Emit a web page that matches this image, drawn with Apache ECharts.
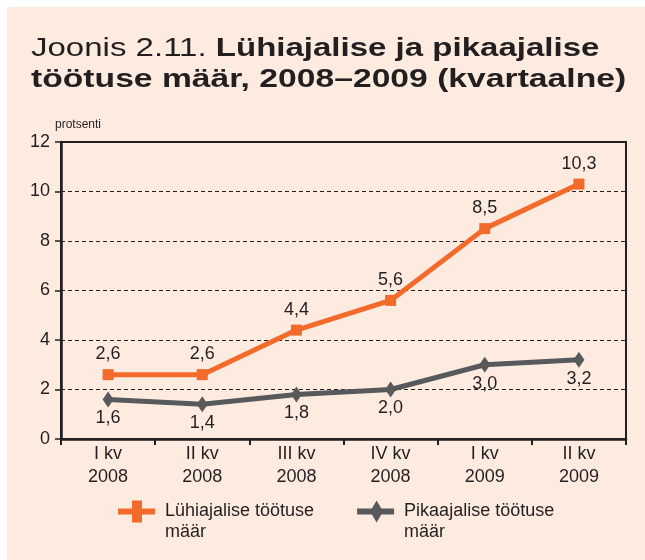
<!DOCTYPE html>
<html>
<head>
<meta charset="utf-8">
<script src="https://cdn.jsdelivr.net/npm/echarts@6/dist/echarts.min.js"></script>
<style>
html,body{margin:0;padding:0;background:#ffffff;}
#c{position:absolute;left:7px;top:7px;width:638px;height:553px;}
</style>
</head>
<body>
<div id="c"></div>
<script>
const categories = ["I kv\n2008", "II kv\n2008", "III kv\n2008", "IV kv\n2008", "I kv\n2009", "II kv\n2009"];
const shortTerm = [2.6, 2.6, 4.4, 5.6, 8.5, 10.3];
const longTerm = [1.6, 1.4, 1.8, 2.0, 3.0, 3.2];
const seriesNames = ["Lühiajalise töötuse\nmäär", "Pikaajalise töötuse\nmäär"];
const yTicks = [0, 2, 4, 6, 8, 10, 12];

const INK = '#231F20';
const ORANGE = '#F26B2A';
const GREY = '#58595B';
const FONT = '"Liberation Sans", Arial, sans-serif';
const fmt = p => p.value.toFixed(1).replace('.', ',');

const titleRich = {
  r: {fontSize: 26, fontWeight: 'normal', fill: INK, fontFamily: FONT, lineHeight: 31},
  b: {fontSize: 26, fontWeight: 'bold', fill: INK, fontFamily: FONT, lineHeight: 31}
};

const chart = echarts.init(document.getElementById('c'), null, {renderer: 'canvas'});
chart.setOption({
  backgroundColor: '#FDEBE0',
  textStyle: {fontFamily: FONT, color: INK},
  graphic: [
    {
      type: 'text', x: 24, y: 26, scaleX: 1.27, scaleY: 1, originX: 0, originY: 0,
      style: {
        text: '{r|Joonis 2.11. }{b|Lühiajalise ja pikaajalise}',
        verticalAlign: 'top', align: 'left', rich: titleRich
      }
    },
    {
      type: 'text', x: 24, y: 57, scaleX: 1.295, scaleY: 1, originX: 0, originY: 0,
      style: {
        text: '{b|töötuse määr, 2008–2009 (kvartaalne)}',
        verticalAlign: 'top', align: 'left', rich: titleRich
      }
    },
    {
      type: 'text', x: 48, y: 112,
      style: {text: 'protsenti', fontSize: 12, fill: INK, fontFamily: FONT}
    }
  ],
  grid: {
    left: 54, right: 19, top: 135, bottom: 121,
    show: true, borderColor: INK, borderWidth: 2, backgroundColor: 'transparent'
  },
  xAxis: {
    type: 'category', data: categories, boundaryGap: true,
    axisLine: {lineStyle: {color: INK, width: 2.5}},
    axisTick: {show: true, length: 6, lineStyle: {color: INK, width: 2}},
    axisLabel: {fontSize: 18, color: INK, lineHeight: 23, margin: 4, fontFamily: FONT}
  },
  yAxis: {
    type: 'value', min: yTicks[0], max: yTicks[yTicks.length - 1], interval: 2,
    axisLine: {show: true, lineStyle: {color: INK, width: 2.5}},
    axisTick: {show: true, length: 6, lineStyle: {color: INK, width: 1.5}},
    axisLabel: {fontSize: 18, color: INK, margin: 11, fontFamily: FONT},
    splitLine: {show: true, lineStyle: {color: INK, type: [4, 3], width: 1}}
  },
  legend: {
    left: 106, top: 468, itemGap: 43, itemWidth: 37, itemHeight: 22,
    formatter: name => ' \n' + name,
    textStyle: {fontSize: 18, color: INK, lineHeight: 21, fontFamily: FONT, padding: [0, 0, 0, 5]},
    data: [
      {name: seriesNames[0], icon: 'path://M0,8H37V14H0Z M14,0H24V22H14Z'},
      {name: seriesNames[1], icon: 'path://M0,8H37V14H0Z M19.5,0L26,11L19.5,22L13,11Z'}
    ]
  },
  series: [
    {
      name: seriesNames[0], type: 'line', data: shortTerm,
      symbol: 'rect', symbolSize: 11,
      lineStyle: {color: ORANGE, width: 5},
      itemStyle: {color: ORANGE},
      label: {show: true, position: 'top', distance: 6, fontSize: 18, color: INK, formatter: fmt, fontFamily: FONT},
      z: 3
    },
    {
      name: seriesNames[1], type: 'line', data: longTerm,
      symbol: 'diamond', symbolSize: [11, 16],
      lineStyle: {color: GREY, width: 5},
      itemStyle: {color: GREY},
      label: {show: true, position: 'bottom', distance: 2, fontSize: 18, color: INK, formatter: fmt, fontFamily: FONT},
      z: 2
    }
  ]
});
</script>
</body>
</html>
